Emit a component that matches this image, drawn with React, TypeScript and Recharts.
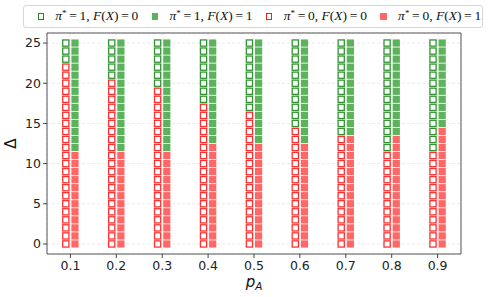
import React from 'react';
import { ScatterChart, Scatter, XAxis, YAxis, CartesianGrid, Legend, ReferenceArea, Label } from 'recharts';

// p_A categories
const P_A = [0.1, 0.2, 0.3, 0.4, 0.5, 0.6, 0.7, 0.8, 0.9];
// Δ values
const DELTAS = [0, 1, 2, 3, 4, 5, 6, 7, 8, 9, 10, 11, 12, 13, 14, 15, 16, 17, 18, 19, 20, 21, 22, 23, 24, 25];
// smallest Δ where π* = 1 when F(X) = 0 (hollow markers), per p_A
const HOLLOW_PI1_FROM = [23, 21, 20, 18, 17, 15, 14, 12, 12];
// smallest Δ where π* = 1 when F(X) = 1 (filled markers), per p_A
const FILLED_PI1_FROM = [12, 12, 12, 13, 13, 13, 14, 14, 15];
// horizontal offset of F(X)=0 / F(X)=1 markers around p_A
const OFFSET = 0.01;

const X_TICKS = [0.1, 0.2, 0.3, 0.4, 0.5, 0.6, 0.7, 0.8, 0.9];
const Y_TICKS = [0, 5, 10, 15, 20, 25];
const X_DOMAIN: [number, number] = [0.049, 0.951];
const Y_DOMAIN: [number, number] = [-1.25, 26.25];

const LEGEND_ITEMS = [
  { pi: 1, f: 0, color: '#1a8a1a', filled: false },
  { pi: 1, f: 1, color: '#5cb35c', filled: true },
  { pi: 0, f: 0, color: '#ff1a1a', filled: false },
  { pi: 0, f: 1, color: '#ff6666', filled: true },
];

type Pt = { x: number; y: number };

function build(thresholds: number[], f: number, pi: number): Pt[] {
  const out: Pt[] = [];
  P_A.forEach((p, i) => {
    DELTAS.forEach((d) => {
      const isPi1 = d >= thresholds[i];
      if ((pi === 1) === isPi1) {
        out.push({ x: f === 0 ? p - OFFSET : p + OFFSET, y: d });
      }
    });
  });
  return out;
}

const hollowGreen = build(HOLLOW_PI1_FROM, 0, 1);
const filledGreen = build(FILLED_PI1_FROM, 1, 1);
const hollowRed = build(HOLLOW_PI1_FROM, 0, 0);
const filledRed = build(FILLED_PI1_FROM, 1, 0);

const hollowShape = (color: string) => (props: any) => {
  const { cx, cy } = props;
  if (cx == null || cy == null) return <g />;
  return (
    <rect x={cx - 3.1} y={cy - 3.1} width={6.2} height={6.2} fill="white" stroke={color} strokeWidth={1.3} strokeOpacity={0.9} />
  );
};

const filledShape = (color: string) => (props: any) => {
  const { cx, cy } = props;
  if (cx == null || cy == null) return <g />;
  return <rect x={cx - 3.6} y={cy - 3.6} width={7.2} height={7.2} fill={color} stroke="none" />;
};

const LegendMarker = ({ color, filled }: { color: string; filled: boolean }) => (
  <span
    style={{
      display: 'inline-block',
      boxSizing: 'border-box',
      width: 7,
      height: 7,
      background: filled ? color : 'white',
      border: filled ? 'none' : `1.3px solid ${color}`,
    }}
  />
);

const EQ = '\u2009=\u2009';

const LegendContent = () => (
  <div
    style={{
      boxSizing: 'border-box',
      width: 460,
      height: 23,
      border: '1px solid #d6d6d6',
      borderRadius: 3,
      background: 'white',
      display: 'flex',
      alignItems: 'center',
      fontFamily: '"Liberation Serif", serif',
      fontSize: 13.5,
      color: '#111',
      whiteSpace: 'nowrap',
    }}
  >
    {LEGEND_ITEMS.map((it, i) => (
      <div key={i} style={{ width: 114.3, display: 'flex', alignItems: 'center', paddingLeft: 13.5, boxSizing: 'border-box' }}>
        <LegendMarker color={it.color} filled={it.filled} />
        <span style={{ marginLeft: 11.5 }}>
          <i>π</i>
          <sup style={{ fontSize: 9, verticalAlign: '0.45em' }}>*</sup>
          {EQ}
          {it.pi}, <i>F</i>(<i>X</i>){EQ}
          {it.f}
        </span>
      </div>
    ))}
  </div>
);

const tickStyle = { fill: '#222', fontSize: 12.5, fontFamily: '"DejaVu Sans", sans-serif' };

export default function App() {
  return (
    <div style={{ position: 'absolute', left: 0, top: 0, background: 'white' }}>
      <ScatterChart width={489} height={297} margin={{ top: 33, right: 28, left: 0, bottom: 0 }}>
        <CartesianGrid stroke="#e4e4e4" strokeDasharray="3 2" strokeWidth={0.8} />
        <XAxis
          type="number"
          dataKey="x"
          domain={X_DOMAIN}
          ticks={X_TICKS}
          allowDataOverflow
          height={43}
          axisLine={false}
          tickLine={{ stroke: '#444' }}
          tickSize={4}
          tickMargin={3}
          tick={tickStyle}
          tickFormatter={(v: number) => v.toFixed(1)}
        >
          <Label
            content={(props: any) => {
              const vb = props.viewBox;
              return (
                <text x={vb.x + vb.width / 2} y={vb.y + 33} textAnchor="middle" fontFamily='"DejaVu Sans", sans-serif' fill="#111">
                  <tspan fontStyle="italic" fontSize={15}>p</tspan>
                  <tspan fontStyle="italic" fontSize={10.5} dy={2.5}>A</tspan>
                </text>
              );
            }}
          />
        </XAxis>
        <YAxis
          type="number"
          dataKey="y"
          domain={Y_DOMAIN}
          ticks={Y_TICKS}
          allowDataOverflow
          width={47}
          axisLine={false}
          tickLine={{ stroke: '#444' }}
          tickSize={4}
          tickMargin={2}
          tick={tickStyle}
        >
          <Label
            content={(props: any) => {
              const vb = props.viewBox;
              const cx = 16;
              const cy = vb.y + vb.height / 2;
              return (
                <text x={cx} y={cy} transform={`rotate(-90 ${cx} ${cy})`} textAnchor="middle" fontFamily='"DejaVu Sans", sans-serif' fontSize={15} fill="#111">
                  Δ
                </text>
              );
            }}
          />
        </YAxis>
        <ReferenceArea x1={X_DOMAIN[0]} x2={X_DOMAIN[1]} y1={Y_DOMAIN[0]} y2={Y_DOMAIN[1]} fill="none" stroke="#555" strokeWidth={1} />
        <Legend
          layout="horizontal"
          verticalAlign="middle"
          align="center"
          wrapperStyle={{ top: 5, left: 23, width: 460, height: 23 }}
          content={() => <LegendContent />}
        />
        <Scatter name="hollowGreen" data={hollowGreen} shape={hollowShape('#1a8a1a')} isAnimationActive={false} />
        <Scatter name="filledGreen" data={filledGreen} shape={filledShape('#5cb35c')} isAnimationActive={false} />
        <Scatter name="hollowRed" data={hollowRed} shape={hollowShape('#ff1a1a')} isAnimationActive={false} />
        <Scatter name="filledRed" data={filledRed} shape={filledShape('#ff6666')} isAnimationActive={false} />
      </ScatterChart>
    </div>
  );
}
